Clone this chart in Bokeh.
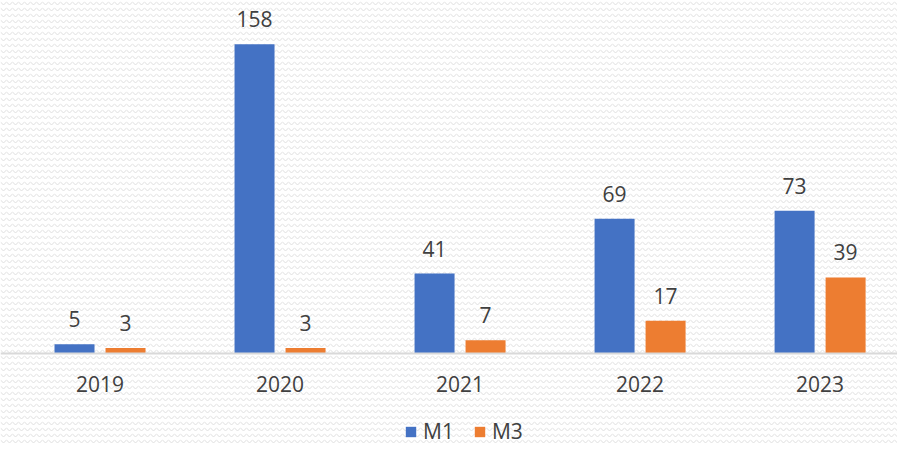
from bokeh.plotting import figure
from bokeh.models import Range1d, FixedTicker, ColumnDataSource, LabelSet, Legend, LegendItem, BoxAnnotation
from bokeh.core.properties import value
from bokeh.embed import file_html
from bokeh.resources import INLINE

years = ["2019", "2020", "2021", "2022", "2023"]
m1 = [5, 158, 41, 69, 73]
m3 = [3, 3, 7, 17, 39]

centers = [i + 0.5 for i in range(len(years))]
off = 25.5 / 180.0
bw = 40.0 / 180.0

BG = "#ffffff"
TXT = "#404040"
FONT = "Open Sans"
FS = "21px"

p = figure(width=897, height=445, output_backend="svg", toolbar_location=None,
           x_range=Range1d(-0.0528, 4.930), y_range=Range1d(-46.7, 180.3),
           min_border_left=0, min_border_right=0, min_border_top=0, min_border_bottom=0,
           background_fill_color=BG, border_fill_color=BG)
p.outline_line_color = None
p.grid.grid_line_color = None
p.yaxis.visible = False

# subtle zigzag texture of the chart background
p.add_layout(BoxAnnotation(level="underlay", fill_alpha=0, line_color=None,
                           hatch_pattern="horizontal_wave", hatch_color="#dedede",
                           hatch_scale=6, hatch_weight=1, hatch_alpha=1))

src1 = ColumnDataSource(dict(x=[c - off for c in centers], top=m1, lab=[str(v) for v in m1]))
src3 = ColumnDataSource(dict(x=[c + off for c in centers], top=m3, lab=[str(v) for v in m3]))
r1 = p.vbar(x="x", top="top", width=bw, bottom=0, source=src1, fill_color="#4472C4", line_color=None)
r3 = p.vbar(x="x", top="top", width=bw, bottom=0, source=src3, fill_color="#ED7D31", line_color=None)

for s in (src1, src3):
    p.add_layout(LabelSet(x="x", y="top", text="lab", source=s, text_align="center",
                          text_baseline="alphabetic", y_offset=17, text_font=value(FONT),
                          text_font_size=FS, text_color=TXT))

ax = p.xaxis[0]
ax.fixed_location = 0
ax.ticker = FixedTicker(ticks=centers)
ax.major_label_overrides = {c: y for c, y in zip(centers, years)}
ax.axis_line_color = "#d9d9d9"
ax.axis_line_width = 2
ax.major_tick_line_color = None
ax.minor_tick_line_color = None
ax.major_label_text_font = FONT
ax.major_label_text_font_size = FS
ax.major_label_text_color = TXT
ax.major_label_standoff = 16

legend = Legend(items=[LegendItem(label="M1", renderers=[r1]), LegendItem(label="M3", renderers=[r3])],
                orientation="horizontal", location=(404, 0),
                glyph_width=13, glyph_height=13, label_standoff=6, spacing=19,
                label_text_font=FONT, label_text_font_size=FS, label_text_color=TXT,
                background_fill_alpha=0, border_line_color=None, margin=0, padding=0)
p.add_layout(legend, "center")

open("out.html", "w").write(file_html(p, INLINE))
